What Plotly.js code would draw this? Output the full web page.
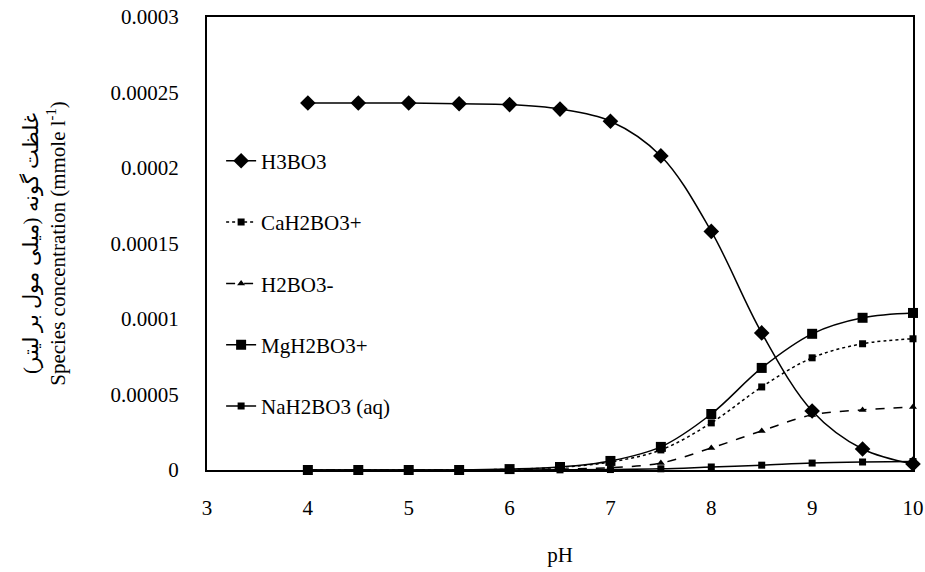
<!DOCTYPE html>
<html>
<head>
<meta charset="utf-8">
<script src="https://cdn.plot.ly/plotly-3.0.1.min.js"></script>
<style>html,body{margin:0;padding:0;background:#fff;}#chart{width:925px;height:572px;}</style>
</head>
<body>
<div id="chart"></div>
<script>
const pH = [4, 4.5, 5, 5.5, 6, 6.5, 7, 7.5, 8, 8.5, 9, 9.5, 10];
const H3BO3 = [0.000243, 0.000243, 0.000243, 0.0002425, 0.000242, 0.000239, 0.000231, 0.000208, 0.000158, 0.0000908, 0.0000391, 0.0000139, 0.000004];
const CaH2BO3 = [0, 0, 0, 0, 0.0000005, 0.0000018, 0.0000053, 0.0000133, 0.0000312, 0.000055, 0.0000743, 0.0000836, 0.0000869];
const H2BO3 = [0, 0, 0, 0, 0.0000002, 0.0000006, 0.0000016, 0.0000046, 0.0000146, 0.0000259, 0.0000365, 0.0000398, 0.0000418];
const MgH2BO3 = [0, 0, 0, 0, 0.0000006, 0.000002, 0.000006, 0.0000153, 0.0000371, 0.0000676, 0.0000902, 0.0001008, 0.000104];
const NaH2BO3 = [0, 0, 0, 0, 0, 0.0000001, 0.0000003, 0.0000008, 0.000002, 0.0000032, 0.0000046, 0.0000053, 0.0000056];
const seriesNames = ["H3BO3", "CaH2BO3+", "H2BO3-", "MgH2BO3+", "NaH2BO3 (aq)"];
const yTickVals = [0, 0.00005, 0.0001, 0.00015, 0.0002, 0.00025, 0.0003];
const yTickText = ["0", "0.00005", "0.0001", "0.00015", "0.0002", "0.00025", "0.0003"];
const xTickVals = [3, 4, 5, 6, 7, 8, 9, 10];

const font = 'Liberation Serif, Times New Roman, DejaVu Serif, serif';
function tr(y, name, sym, size, dash, grp) {
  return {
    x: pH, y: y, name: name, type: 'scatter', mode: 'lines+markers',
    line: {color: '#000', width: 1.5, shape: 'spline', dash: dash},
    marker: {symbol: sym, size: size, color: '#000'},
    cliponaxis: false, legendgroup: grp
  };
}
const data = [
  tr(H3BO3, seriesNames[0], 'diamond', 12, 'solid', 'a'),
  tr(CaH2BO3, seriesNames[1], 'square', 7, 'dot', 'b'),
  tr(H2BO3, seriesNames[2], 'triangle-up', 7, 'dash', 'c'),
  tr(MgH2BO3, seriesNames[3], 'square', 10, 'solid', 'd'),
  tr(NaH2BO3, seriesNames[4], 'square', 7, 'solid', 'e')
];
const layout = {
  width: 925, height: 572,
  margin: {l: 207, r: 12, t: 17, b: 102},
  paper_bgcolor: '#fff', plot_bgcolor: '#fff',
  font: {family: font, size: 21, color: '#000'},
  showlegend: true,
  legend: {x: 0.02, y: 0.727, xanchor: 'left', yanchor: 'top', bgcolor: 'rgba(0,0,0,0)',
           font: {family: font, size: 21, color: '#000'}, tracegroupgap: 31, traceorder: 'grouped'},
  xaxis: {range: [3, 10], tickvals: xTickVals, ticks: '', showgrid: false, zeroline: false,
          showline: true, linecolor: '#000', linewidth: 2, mirror: true,
          tickfont: {family: font, size: 21}, ticklabelstandoff: 18,
          title: {text: 'pH', font: {family: font, size: 21}, standoff: 28}},
  yaxis: {range: [0, 0.0003], tickvals: yTickVals, ticktext: yTickText, ticks: '', showgrid: false, zeroline: false,
          showline: true, linecolor: '#000', linewidth: 2, mirror: true,
          tickfont: {family: font, size: 21}, ticklabelstandoff: 22,
          title: {text: 'غلظت گونه (میلی مول بر لیتر)<br>Species concentration (mmole l<sup>-1</sup>)', font: {family: font, size: 21}, standoff: 39}}
};
Plotly.newPlot('chart', data, layout, {displayModeBar: false, staticPlot: true});
</script>
</body>
</html>
